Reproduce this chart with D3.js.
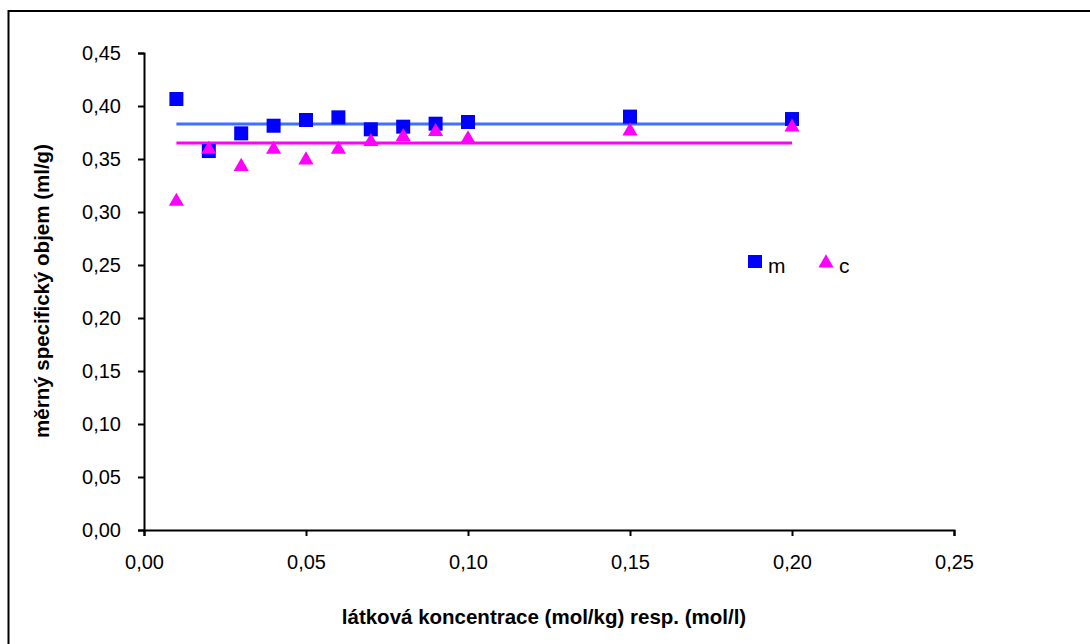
<!DOCTYPE html>
<html>
<head>
<meta charset="utf-8">
<script src="https://cdn.jsdelivr.net/npm/d3@7"></script>
<style>
  html, body { margin: 0; padding: 0; background: #fff; }
  svg { display: block; font-family: "Liberation Sans", Arial, sans-serif; }
</style>
</head>
<body>
<svg id="chart" width="1090" height="644"></svg>
<script>
// ---- data ----
const concentrations = [0.01, 0.02, 0.03, 0.04, 0.05, 0.06, 0.07, 0.08, 0.09, 0.10, 0.15, 0.20];
const seriesM = [0.4066, 0.3575, 0.3742, 0.3814, 0.3868, 0.3893, 0.378, 0.3805, 0.3833, 0.3849, 0.390, 0.3877];
const seriesC = [0.310, 0.359, 0.3428, 0.359, 0.349, 0.359, 0.3663, 0.371, 0.3758, 0.3689, 0.3764, 0.380];
const meanM = 0.383;
const meanC = 0.365;
const meanRange = [0.01, 0.20];
const xTicks = [0, 0.05, 0.10, 0.15, 0.20, 0.25];
const yTicks = [0, 0.05, 0.10, 0.15, 0.20, 0.25, 0.30, 0.35, 0.40, 0.45];
const seriesNames = ["m", "c"];
const xTitle = "látková koncentrace (mol/kg) resp. (mol/l)";
const yTitle = "měrný specifický objem (ml/g)";

// ---- layout ----
const svg = d3.select("#chart");
const plot = { left: 144, right: 954, top: 53, bottom: 530 };
const x = d3.scaleLinear().domain([0, 0.25]).range([plot.left, plot.right]);
const y = d3.scaleLinear().domain([0, 0.45]).range([plot.bottom, plot.top]);
const fmt = v => d3.format(".2f")(v).replace(".", ",");

// outer chart border (only top and left visible in the crop)
svg.append("path")
  .attr("d", "M8.5,644 L8.5,11 L1090,11")
  .attr("fill", "none").attr("stroke", "#000").attr("stroke-width", 2);

// axes
const xAxis = d3.axisBottom(x).tickValues(xTicks).tickFormat(fmt).tickSize(6).tickSizeOuter(6).tickPadding(19);
const yAxis = d3.axisLeft(y).tickValues(yTicks).tickFormat(fmt).tickSize(6).tickSizeOuter(6).tickPadding(17);

const gx = svg.append("g").attr("transform", `translate(0,${plot.bottom})`).call(xAxis);
const gy = svg.append("g").attr("transform", `translate(${plot.left},0)`).call(yAxis);
[gx, gy].forEach(g => {
  g.selectAll("path.domain").attr("stroke", "#000").attr("stroke-width", 2);
  g.selectAll(".tick line").attr("stroke", "#000").attr("stroke-width", 2);
  g.selectAll(".tick text").attr("fill", "#000")
    .style("font-family", "'Liberation Sans', Arial, sans-serif").style("font-size", "20px");
});

// mean lines
const lineGen = d3.line().x(d => x(d[0])).y(d => y(d[1]));
svg.append("path").datum(meanRange.map(v => [v, meanM])).attr("d", lineGen)
  .attr("fill", "none").attr("stroke", "#4070ff").attr("stroke-width", 3);
svg.append("path").datum(meanRange.map(v => [v, meanC])).attr("d", lineGen)
  .attr("fill", "none").attr("stroke", "#ff00ff").attr("stroke-width", 3);

// markers
const sq = 14;
svg.append("g").selectAll("rect").data(concentrations.map((c, i) => [c, seriesM[i]]))
  .join("rect")
  .attr("x", d => x(d[0]) - sq / 2).attr("y", d => y(d[1]) - sq / 2)
  .attr("width", sq).attr("height", sq).attr("fill", "#0000ff");

const tri = d3.symbol().type(d3.symbolTriangle).size(100);
svg.append("g").selectAll("path").data(concentrations.map((c, i) => [c, seriesC[i]]))
  .join("path")
  .attr("d", tri)
  .attr("transform", d => `translate(${x(d[0])},${y(d[1])})`)
  .attr("fill", "#ff00ff");

// legend
const leg = svg.append("g");
leg.append("rect").attr("x", 748).attr("y", 255).attr("width", 14).attr("height", 13).attr("fill", "#0000ff");
leg.append("text").attr("x", 768).attr("y", 273).text(seriesNames[0])
  .style("font-size", "21px").attr("fill", "#000");
leg.append("path").attr("d", tri).attr("transform", "translate(826,263)").attr("fill", "#ff00ff");
leg.append("text").attr("x", 839).attr("y", 273).text(seriesNames[1])
  .style("font-size", "21px").attr("fill", "#000");

// axis titles
svg.append("text").attr("x", 544).attr("y", 624).attr("text-anchor", "middle")
  .style("font-size", "20.5px").style("font-weight", "bold").text(xTitle);
svg.append("text").attr("transform", "translate(48.5,291) rotate(-90)").attr("text-anchor", "middle")
  .style("font-size", "20.5px").style("font-weight", "bold").text(yTitle);
</script>
</body>
</html>
